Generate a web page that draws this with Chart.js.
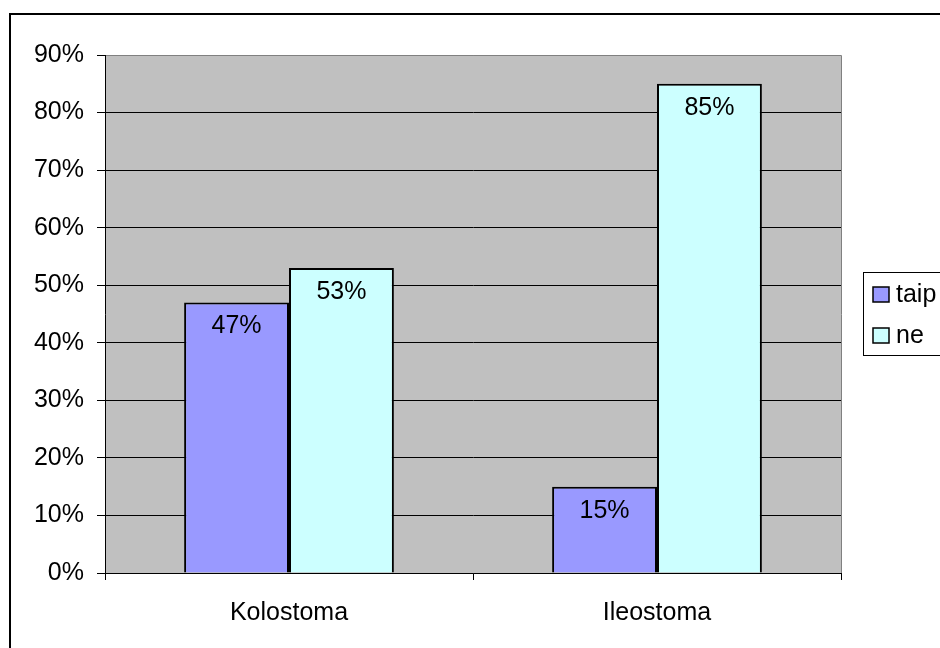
<!DOCTYPE html>
<html>
<head>
<meta charset="utf-8">
<title>Kolostoma / Ileostoma</title>
<script src="https://cdn.jsdelivr.net/npm/chart.js@4/dist/chart.umd.min.js"></script>
<style>
  html, body { margin: 0; padding: 0; background: #fff; }
  #wrap { width: 940px; height: 648px; }
</style>
</head>
<body>
<div id="wrap"><canvas id="chart" width="940" height="648"></canvas></div>
<script>
const categories = ['Kolostoma', 'Ileostoma'];
const taipValues = [47, 15];
const neValues = [53, 85];
const seriesNames = ['taip', 'ne'];
const seriesColors = ['#9999FF', '#CCFFFF'];

const FONT = '"Liberation Sans", Arial, sans-serif';
const FONT_SIZE = 25;

// gray plot background, outer frame, value labels and the side legend
const decorations = {
  id: 'decorations',
  beforeDraw(chart) {
    const ctx = chart.ctx;
    const a = chart.chartArea;
    ctx.save();
    ctx.fillStyle = '#fff';
    ctx.fillRect(0, 0, chart.width, chart.height);
    ctx.fillStyle = '#C0C0C0';
    ctx.fillRect(a.left, a.top, a.right - a.left, a.bottom - a.top);
    ctx.strokeStyle = '#808080';
    ctx.lineWidth = 1;
    ctx.beginPath();
    ctx.moveTo(a.left, a.top + 0.5);
    ctx.lineTo(a.right + 0.5, a.top + 0.5);
    ctx.lineTo(a.right + 0.5, a.bottom);
    ctx.stroke();
    ctx.restore();
  },
  afterDatasetsDraw(chart) {
    const ctx = chart.ctx;
    ctx.save();
    ctx.font = FONT_SIZE + 'px ' + FONT;
    ctx.fillStyle = '#000';
    ctx.textAlign = 'center';
    ctx.textBaseline = 'middle';
    chart.data.datasets.forEach((ds, i) => {
      chart.getDatasetMeta(i).data.forEach((bar, j) => {
        ctx.fillText(ds.data[j] + '%', bar.x, bar.y + 24);
      });
    });
    ctx.restore();
  },
  afterDraw(chart) {
    const ctx = chart.ctx;
    ctx.save();
    // outer frame
    ctx.strokeStyle = '#000';
    ctx.lineWidth = 2;
    ctx.strokeRect(10, 14, 1000, 1000);
    // legend
    ctx.lineWidth = 1;
    ctx.strokeRect(863.5, 272.5, 120, 83);
    ctx.font = FONT_SIZE + 'px ' + FONT;
    ctx.textBaseline = 'middle';
    ctx.textAlign = 'left';
    const rows = [295, 336];
    seriesNames.forEach((name, i) => {
      ctx.fillStyle = seriesColors[i];
      ctx.fillRect(873, rows[i] - 8, 16, 15);
      ctx.strokeStyle = '#000';
      ctx.lineWidth = 1.5;
      ctx.strokeRect(873, rows[i] - 8, 16, 15);
      ctx.fillStyle = '#000';
      ctx.fillText(name, 896, rows[i]);
    });
    ctx.restore();
  }
};

new Chart(document.getElementById('chart'), {
  type: 'bar',
  data: {
    labels: categories,
    datasets: [
      {
        label: seriesNames[0],
        data: taipValues,
        backgroundColor: seriesColors[0],
        borderColor: '#000',
        borderWidth: 2,
        categoryPercentage: 0.57,
        barPercentage: 1
      },
      {
        label: seriesNames[1],
        data: neValues,
        backgroundColor: seriesColors[1],
        borderColor: '#000',
        borderWidth: 2,
        categoryPercentage: 0.57,
        barPercentage: 1
      }
    ]
  },
  options: {
    responsive: false,
    animation: false,
    layout: { padding: { left: 0, top: 55, right: 99, bottom: 0 } },
    plugins: {
      legend: { display: false },
      tooltip: { enabled: false }
    },
    scales: {
      y: {
        min: 0,
        max: 90,
        afterFit(scale) { scale.width = 105; },
        ticks: {
          stepSize: 10,
          padding: 13,
          color: '#000',
          font: { family: FONT, size: FONT_SIZE },
          callback: v => v + '%'
        },
        grid: {
          color: ctx => (ctx.tick && ctx.tick.value === 90) ? '#808080' : '#000',
          tickColor: '#000',
          tickLength: 8,
          lineWidth: 1
        },
        border: { color: '#000', width: 1 }
      },
      x: {
        afterFit(scale) { scale.height = 75; },
        ticks: {
          padding: 18,
          color: '#000',
          font: { family: FONT, size: FONT_SIZE }
        },
        grid: {
          offset: true,
          drawOnChartArea: false,
          tickColor: '#000',
          tickLength: 7
        },
        border: { color: '#000', width: 1 }
      }
    }
  },
  plugins: [decorations]
});
</script>
</body>
</html>
